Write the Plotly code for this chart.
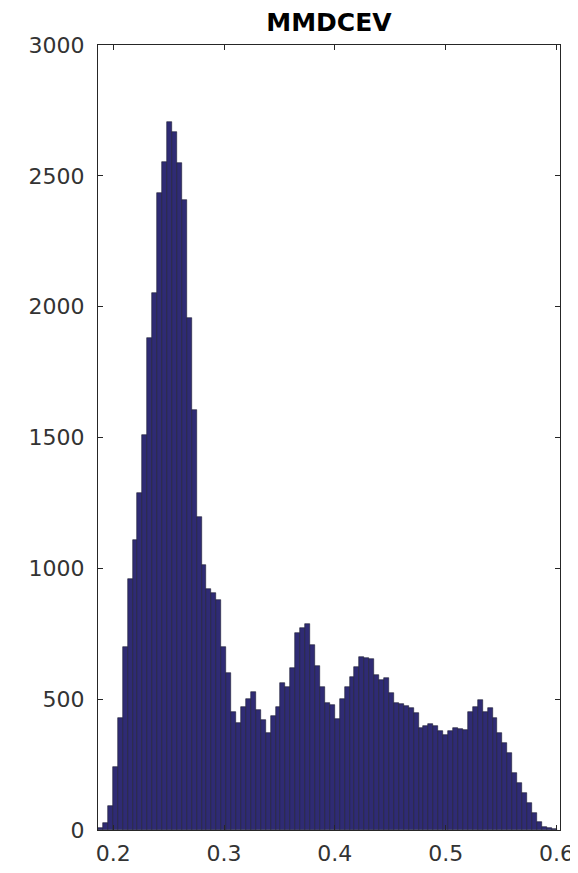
import numpy as np
import plotly.graph_objects as go

# Histogram bins (left edge, width) and counts
bin_start = 0.1863
bin_width = 0.00445
counts = [
    7, 28, 93, 240, 428, 700, 961, 1108, 1287, 1510,
    1879, 2051, 2433, 2554, 2707, 2669, 2548, 2408, 1955, 1605,
    1197, 1013, 920, 905, 880, 700, 600, 452, 408, 471,
    500, 528, 459, 420, 369, 435, 470, 561, 548, 621,
    752, 771, 787, 707, 627, 548, 486, 478, 423, 499,
    548, 586, 624, 660, 656, 652, 592, 573, 580, 522,
    484, 482, 474, 465, 446, 389, 397, 405, 397, 379,
    363, 379, 389, 385, 382, 452, 471, 497, 452, 465,
    427, 369, 334, 293, 217, 178, 140, 102, 64, 32,
    10, 6, 3,
]
x_ticks = [0.2, 0.3, 0.4, 0.5, 0.6]
x_tick_labels = ["0.2", "0.3", "0.4", "0.5", "0.6"]
y_ticks = [0, 500, 1000, 1500, 2000, 2500, 3000]
y_tick_labels = ["0", "500", "1000", "1500", "2000", "2500", "3000"]
title_text = "MMDCEV"

centers = [bin_start + bin_width * (i + 0.5) for i in range(len(counts))]

fig = go.Figure()
fig.add_trace(go.Bar(
    x=centers, y=counts, width=bin_width,
    marker=dict(color="#2f2b74", line=dict(color="#1c1b33", width=0.6)),
    hoverinfo="x+y",
))

axis_common = dict(
    showline=True, linecolor="#262626", linewidth=1,
    mirror="ticks", ticks="inside", ticklen=5, tickwidth=1, tickcolor="#262626",
    showgrid=False, zeroline=False, automargin=False,
    tickfont=dict(family="DejaVu Sans", size=22, color="#333333"),
)

# page body adds an 8px offset; figure sized so that it fills the 578x873 window
fig.update_layout(
    width=570, height=865,
    margin=dict(l=90, r=18, t=37, b=43, autoexpand=False),
    paper_bgcolor="white", plot_bgcolor="white",
    bargap=0, showlegend=False,
    title=dict(text="<b>" + title_text + "</b>", x=0.5, xref="paper", xanchor="center",
               y=1 - 14 / 865, yref="container", yanchor="middle",
               font=dict(family="DejaVu Sans", size=25, color="#000000")),
    xaxis=dict(range=[0.1863, 0.6032], tickvals=x_ticks, ticktext=x_tick_labels,
               ticklabelstandoff=4, **axis_common),
    yaxis=dict(range=[0, 3000], tickvals=y_ticks, ticktext=y_tick_labels,
               ticklabelstandoff=8, **axis_common),
)

fig.write_html("out.html")
